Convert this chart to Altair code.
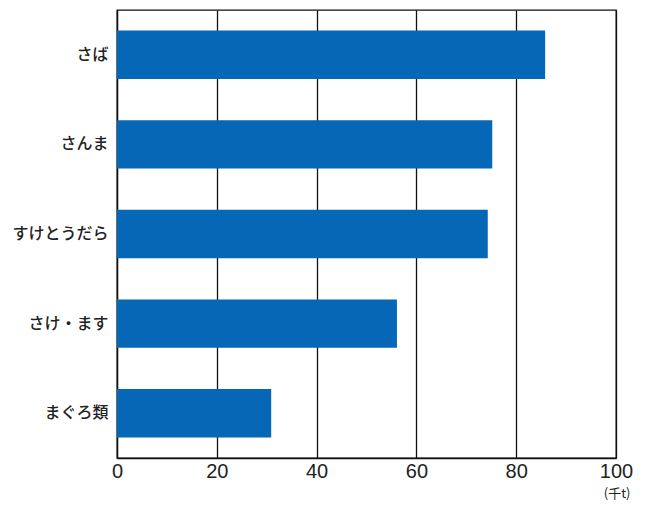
import altair as alt
import pandas as pd

categories = ["さば", "さんま", "すけとうだら", "さけ・ます", "まぐろ類"]
values = [85.8, 75.2, 74.3, 56.1, 30.9]
x_ticks = [0, 20, 40, 60, 80, 100]

df = pd.DataFrame({"fish": categories, "value": values})

chart = alt.Chart(df).mark_bar(color="#0667b6").encode(
    x=alt.X("value:Q",
            scale=alt.Scale(domain=[0, 100], nice=False),
            axis=alt.Axis(values=x_ticks, grid=True, gridColor="#111111", gridWidth=1.3,
                          ticks=False, domainColor="#111111", domainWidth=1.3,
                          labelFont="Liberation Sans", labelFontSize=20, labelColor="#222222",
                          labelPadding=3, labelFlush=False,
                          title="(千t)", titleFont="Noto Sans CJK JP", titleFontSize=13,
                          titleFontWeight="normal", titleColor="#222222",
                          titleAnchor="end", titleAlign="right", titleBaseline="bottom",
                          titleX=513, titleY=42)),
    y=alt.Y("fish:N", sort=categories,
            scale=alt.Scale(paddingInner=0.46, paddingOuter=0.23),
            axis=alt.Axis(ticks=False, domainColor="#111111", domainWidth=1.3,
                          labelFont="Noto Sans CJK JP", labelFontSize=16, labelFontWeight=500,
                          labelColor="#222222", labelPadding=9, title=None)),
).properties(
    width=499, height=448,
    autosize=alt.AutoSizeParams(type="none"),
    padding={"left": 117, "top": 10, "right": 35, "bottom": 47},
).configure_view(stroke="#111111", strokeWidth=1.3)

chart.save("out.html", embed_options={"renderer": "svg", "actions": False})
